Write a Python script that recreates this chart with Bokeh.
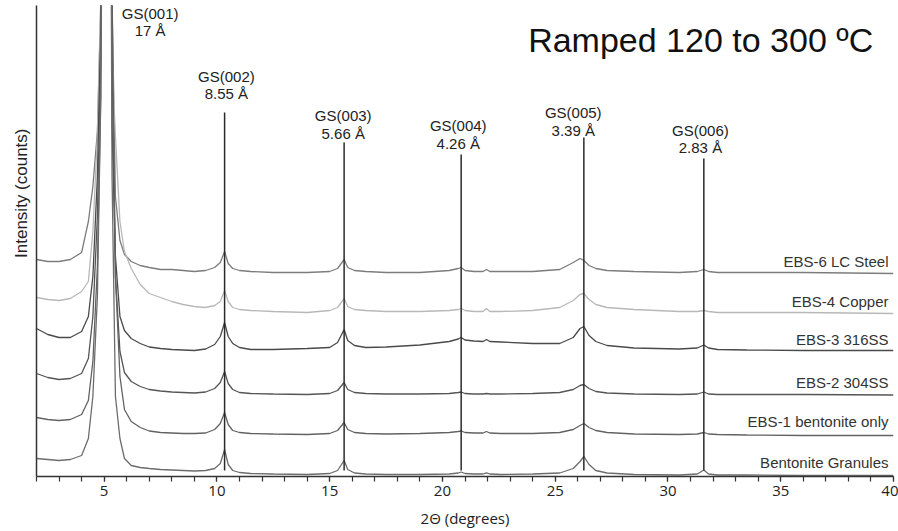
from bokeh.plotting import figure
from bokeh.models import Range1d, FixedTicker, Title
from bokeh.core.properties import value
from bokeh.embed import file_html
from bokeh.resources import INLINE

# ---------------- data ----------------
two_theta = [2.0, 2.5, 3.0, 3.5, 4.0, 4.3, 4.5, 4.7, 4.85, 5.05, 5.2, 5.35, 5.5, 5.7, 5.9,
             6.2, 6.6, 7.0, 7.5, 8.0, 8.5, 9.0, 9.5, 9.9, 10.15, 10.34, 10.5, 10.7, 11.0,
             11.5, 12.5, 14.0, 15.0, 15.35, 15.64, 15.8, 16.1, 16.6, 17.5, 19.0, 20.3,
             20.7, 20.83, 21.0, 21.4, 21.8, 21.95, 22.1, 22.6, 24.0, 25.2, 25.8, 26.1,
             26.27, 26.5, 26.8, 27.3, 28.5, 30.5, 31.3, 31.59, 31.8, 32.2, 33.5, 36.0, 40.0]

ebs6_lc_steel = [217, 215, 215, 217, 224, 255, 290, 345, 470, 1100, 1400, 480, 280, 236, 222,
                 215, 211, 209, 207, 207, 206, 205, 206, 209, 214, 225, 213, 208, 206,
                 205, 204, 204, 205, 208, 217, 209, 206, 205, 204, 204, 206,
                 208, 209, 206, 205, 205, 207, 205, 205, 205, 207, 214, 218,
                 216, 211, 208, 206, 205, 204, 205, 207, 205, 204, 204, 204, 203]

ebs4_copper = [179, 177, 176, 178, 185, 195, 245, 340, 480, 1300, 1000, 420, 340, 255, 225,
               208, 192, 183, 179, 175, 172, 170, 169, 171, 175, 186, 175, 169, 167,
               166, 165, 164, 166, 169, 178, 170, 167, 166, 165, 165, 166,
               167, 168, 166, 165, 165, 168, 165, 165, 166, 169, 176, 182,
               183, 177, 172, 169, 167, 165, 165, 166, 165, 164, 164, 164, 163]

ebs3_316ss = [148, 142, 139, 139, 145, 160, 200, 300, 450, 1200, 1500, 350, 220, 160, 146,
              138, 133, 129.5, 128, 127, 126.5, 126, 127.5, 132, 140, 154, 140, 133, 129,
              127, 127, 128, 129, 134, 147, 136, 131, 129, 129.5, 131.5, 135,
              137.5, 139, 136.5, 135.5, 135, 137, 135, 134.5, 133, 133, 139, 148,
              150, 141, 135, 131, 128.5, 127.5, 128.5, 131.5, 128.5, 127, 126.5, 126, 126]

ebs2_304ss = [103, 99, 97, 98, 103, 118, 160, 260, 420, 1400, 1200, 420, 200, 125, 104,
              95, 90, 87, 85.5, 84.5, 84, 83.5, 84.5, 88, 94, 105, 93, 87, 84,
              83, 82.5, 82, 83, 86, 94, 87, 84, 83, 82.5, 82.5, 83,
              84, 84.5, 83, 82.5, 82.5, 83, 82.5, 82.5, 83, 84, 87, 91,
              92, 88, 85, 83.5, 82.5, 82, 82.5, 84.5, 82.5, 82, 82, 82, 81.5]

ebs1_bentonite_only = [59, 57, 56, 57, 62, 76, 115, 210, 380, 1000, 1400, 480, 200, 100, 67,
                       55, 49, 45.5, 44, 43.5, 43, 43, 43.5, 47, 53, 64, 52, 46, 44,
                       43, 42.5, 42, 43, 46, 54, 47, 44, 43, 42.5, 43, 44,
                       45, 45.5, 44, 43.5, 43.5, 45, 43.5, 43, 43, 44, 47, 51,
                       53, 49, 46, 44, 42.5, 42, 42.5, 44, 42.5, 42, 41.5, 41, 41]

bentonite_granules = [18, 17, 16, 17, 21, 38, 80, 180, 380, 1300, 1100, 300, 80, 38, 18,
                      11, 9, 8, 7, 6.5, 6, 5.5, 6, 8, 13, 27, 12, 6, 4,
                      3, 2.5, 2, 3, 6, 16, 7, 3.5, 2.5, 2, 2, 2.5,
                      3.5, 4.5, 3, 2.5, 2.5, 3.7, 2.5, 2, 2.5, 3.5, 8, 15,
                      20, 12, 6, 3.5, 2, 1.5, 2.5, 6.5, 2.5, 1.5, 1.5, 1, 1]

sample_names = ["EBS-6 LC Steel", "EBS-4 Copper", "EBS-3 316SS", "EBS-2 304SS",
                "EBS-1 bentonite only", "Bentonite Granules"]

gs_labels = ["GS(001)", "GS(002)", "GS(003)", "GS(004)", "GS(005)", "GS(006)"]
gs_dspacing = ["17 Å", "8.55 Å", "5.66 Å", "4.26 Å", "3.39 Å", "2.83 Å"]
gs_two_theta = [5.2, 10.34, 15.64, 20.83, 26.27, 31.59]

x_ticks = [5, 10, 15, 20, 25, 30, 35, 40]
title_text = "Ramped 120 to 300 ºC"
y_label_text = "Intensity (counts)"

# ---------------- layout / style ----------------
series = [ebs6_lc_steel, ebs4_copper, ebs3_316ss, ebs2_304ss, ebs1_bentonite_only, bentonite_granules]
series_colors = ["#7c7c7c", "#b8b8b8", "#4a4a4a", "#555555", "#626262", "#6c6c6c"]
name_y = [215, 175, 137, 94, 55, 14]
gs_label_x = [7.04, 10.42, 15.6, 20.7, 25.8, 31.44]
gs_label_y1 = [463, 400, 361, 351, 364, 346]
gs_label_y2 = [446, 383, 343, 333, 346, 329]
gs_line_top = [364, 334, 322, 339, 318]
gs_line_bottom = 6

p = figure(width=898, height=531, output_backend="svg", toolbar_location=None,
           x_range=Range1d(2, 40), y_range=Range1d(0, 471),
           min_border_left=36, min_border_right=5, min_border_top=5, min_border_bottom=55)
p.outline_line_color = None
p.grid.visible = False
p.background_fill_color = "white"
p.border_fill_color = "white"

xa = p.xaxis[0]
xa.ticker = FixedTicker(ticks=x_ticks, minor_ticks=list(range(2, 41)))
xa.axis_line_color = "#333333"
xa.axis_line_width = 1.5
xa.major_tick_line_color = "#333333"
xa.major_tick_line_width = 1.2
xa.minor_tick_line_color = "#333333"
xa.minor_tick_line_width = 1.2
xa.major_tick_in = 0
xa.major_tick_out = 5
xa.minor_tick_in = 0
xa.minor_tick_out = 5
xa.major_label_text_font = "Open Sans"
xa.major_label_text_font_size = "15px"
xa.major_label_text_color = "#222222"
xa.major_label_standoff = 4
xa.axis_label = "2Θ (degrees)"
xa.axis_label_text_font = "Open Sans"
xa.axis_label_text_font_size = "15px"
xa.axis_label_text_font_style = "normal"
xa.axis_label_text_color = "#222222"
xa.axis_label_standoff = 9

ya = p.yaxis[0]
ya.ticker = FixedTicker(ticks=[])
ya.axis_line_color = "#333333"
ya.axis_line_width = 1.5
ya.major_tick_out = 0
ya.major_tick_in = 0
ya.minor_tick_out = 0
ya.minor_tick_in = 0
ya.major_label_standoff = 0

# y-axis title in the left margin, shifted toward the top like the reference
p.add_layout(Title(text=y_label_text, align="right", offset=123,
                   text_font="Liberation Sans", text_font_size="17px",
                   text_font_style="normal", text_color="#222222", standoff=12), "left")

for ys, col in zip(series, series_colors):
    p.line(two_theta, ys, line_color=col, line_width=1.3)

p.segment(x0=gs_two_theta[1:], y0=[gs_line_bottom] * 5, x1=gs_two_theta[1:], y1=gs_line_top,
          line_color="#2a2a2a", line_width=1.5)

p.text(x=gs_label_x, y=gs_label_y1, text=gs_labels, text_align="center", text_baseline="middle",
       text_font=value("Liberation Sans"), text_font_size="15px", text_color="#222222")
p.text(x=gs_label_x, y=gs_label_y2, text=gs_dspacing, text_align="center", text_baseline="middle",
       text_font=value("Liberation Sans"), text_font_size="15px", text_color="#222222")

p.text(x=[39.78] * 6, y=name_y, text=sample_names, text_align="right", text_baseline="middle",
       text_font=value("Liberation Sans"), text_font_size="15px", text_color="#333333")

p.text(x=[23.8], y=[437], text=[title_text], text_align="left", text_baseline="middle",
       text_font=value("Liberation Sans"), text_font_size="34px", text_color="#111111")

open("out.html", "w").write(file_html(p, INLINE))
